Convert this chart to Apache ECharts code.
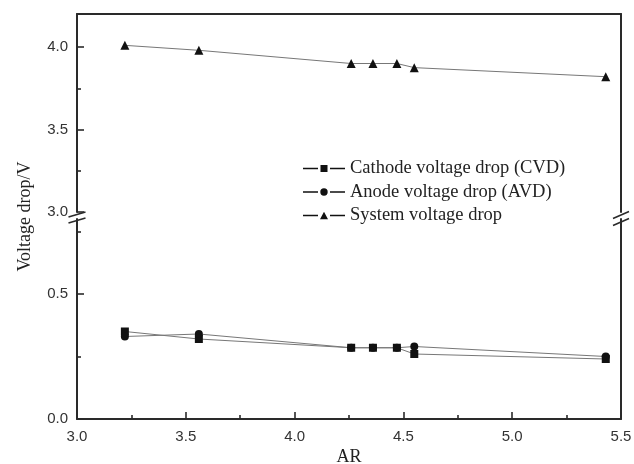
<!DOCTYPE html>
<html>
<head>
<meta charset="utf-8">
<script src="https://cdn.jsdelivr.net/npm/echarts@6/dist/echarts.min.js"></script>
<style>
html,body{margin:0;padding:0;background:#fff;}
#c{width:634px;height:464px;}
</style>
</head>
<body>
<div id="c"></div>
<script>
// ---- data ----
var arValues = [3.22, 3.56, 4.26, 4.36, 4.47, 4.55, 5.43];
var cathodeDrop = [0.35, 0.32, 0.285, 0.285, 0.285, 0.26, 0.24];
var anodeDrop = [0.33, 0.34, 0.285, 0.285, 0.285, 0.29, 0.25];
var systemDrop = [4.01, 3.98, 3.90, 3.90, 3.90, 3.875, 3.82];
var seriesNames = ['Cathode voltage drop (CVD)', 'Anode voltage drop (AVD)', 'System voltage drop'];
var xTicks = [3.0, 3.5, 4.0, 4.5, 5.0, 5.5];
var xMinorTicks = [3.25, 3.75, 4.25, 4.75, 5.25];
var yUpperTicks = [3.0, 3.5, 4.0];
var yUpperMinorTicks = [3.25, 3.75];
var yLowerTicks = [0.0, 0.5];
var yLowerMinorTicks = [0.25, 0.75];
var xTitle = 'AR';
var yTitle = 'Voltage drop/V';

function pairs(xs, ys) { return xs.map(function (x, i) { return [x, ys[i]]; }); }

var axisColor = '#2a2a2a';
var lineColor = '#777';
var markColor = '#111';
var tickFont = { fontFamily: 'Liberation Sans', fontSize: 15, color: '#333' };
var fmt = function (v) { return Number(v).toFixed(1); };

// legend icons: dash - marker - dash
var dashes = 'M0,4.2 H15 V5.8 H0 Z M27,4.2 H42 V5.8 H27 Z ';
var legendIcons = [
  'path://' + dashes + 'M17.5,1.5 H24.5 V8.5 H17.5 Z',
  'path://' + dashes + 'M17.3,5 A3.7,3.7 0 1,0 24.7,5 A3.7,3.7 0 1,0 17.3,5 Z',
  'path://' + dashes + 'M21,1.3 L25,8.7 L17,8.7 Z'
];

var chart = echarts.init(document.getElementById('c'));

var xRange = { min: 3, max: 5.5, interval: 0.5 };
var upperRange = { min: 3, max: 4.2, interval: 0.5 };
var lowerRange = { min: 0, max: 0.8, interval: 0.5 };

function axisBase(extra) {
  return Object.assign({
    type: 'value',
    splitLine: { show: false },
    axisLine: { show: true, lineStyle: { color: axisColor, width: 2 } },
    axisTick: { show: false },
    axisLabel: { show: false }
  }, extra);
}
var tickLine = { color: axisColor, width: 1.6 };

var option = {
  backgroundColor: '#fff',
  animation: false,
  grid: [
    { left: 77, right: 13, top: 14, height: 198, containLabel: false, outerBoundsMode: 'none' },
    { left: 77, right: 13, top: 219, bottom: 45, containLabel: false, outerBoundsMode: 'none' }
  ],
  xAxis: [
    axisBase(Object.assign({ gridIndex: 0, position: 'top' }, xRange)),
    axisBase(Object.assign({
      gridIndex: 1, position: 'bottom',
      axisTick: { show: true, inside: true, length: 7, customValues: xTicks, lineStyle: tickLine },
      axisLabel: Object.assign({ show: true, margin: 10, customValues: xTicks, formatter: fmt }, tickFont),
      name: xTitle, nameLocation: 'middle', nameGap: 29,
      nameTextStyle: { fontFamily: 'Liberation Serif', fontSize: 18, color: '#222' }
    }, xRange)),
    axisBase(Object.assign({
      gridIndex: 1, position: 'bottom',
      axisLine: { show: false },
      axisTick: { show: true, inside: true, length: 4, customValues: xMinorTicks, lineStyle: tickLine }
    }, xRange))
  ],
  yAxis: [
    axisBase(Object.assign({
      gridIndex: 0, position: 'left',
      axisTick: { show: true, inside: true, length: 7, customValues: yUpperTicks, lineStyle: tickLine },
      axisLabel: Object.assign({ show: true, margin: 9, customValues: yUpperTicks, formatter: fmt }, tickFont)
    }, upperRange)),
    axisBase(Object.assign({
      gridIndex: 0, position: 'left',
      axisLine: { show: false },
      axisTick: { show: true, inside: true, length: 4, customValues: yUpperMinorTicks, lineStyle: tickLine }
    }, upperRange)),
    axisBase(Object.assign({ gridIndex: 0, position: 'right' }, upperRange)),
    axisBase(Object.assign({
      gridIndex: 1, position: 'left',
      axisTick: { show: true, inside: true, length: 7, customValues: yLowerTicks, lineStyle: tickLine },
      axisLabel: Object.assign({ show: true, margin: 9, customValues: yLowerTicks, formatter: fmt }, tickFont)
    }, lowerRange)),
    axisBase(Object.assign({
      gridIndex: 1, position: 'left',
      axisLine: { show: false },
      axisTick: { show: true, inside: true, length: 4, customValues: yLowerMinorTicks, lineStyle: tickLine }
    }, lowerRange)),
    axisBase(Object.assign({ gridIndex: 1, position: 'right' }, lowerRange))
  ],
  legend: {
    orient: 'vertical',
    left: 298, top: 154,
    itemWidth: 42, itemHeight: 10, itemGap: 4.5,
    textStyle: { fontFamily: 'Liberation Serif', fontSize: 18.5, color: '#222' },
    data: seriesNames.map(function (n, i) { return { name: n, icon: legendIcons[i] }; })
  },
  series: [
    {
      name: seriesNames[0], type: 'line', xAxisIndex: 1, yAxisIndex: 3,
      data: pairs(arValues, cathodeDrop),
      symbol: 'rect', symbolSize: 8,
      lineStyle: { color: lineColor, width: 1 },
      itemStyle: { color: markColor }
    },
    {
      name: seriesNames[1], type: 'line', xAxisIndex: 1, yAxisIndex: 3,
      data: pairs(arValues, anodeDrop),
      symbol: 'circle', symbolSize: 8,
      lineStyle: { color: lineColor, width: 1 },
      itemStyle: { color: markColor }
    },
    {
      name: seriesNames[2], type: 'line', xAxisIndex: 0, yAxisIndex: 0,
      data: pairs(arValues, systemDrop),
      symbol: 'triangle', symbolSize: 9,
      lineStyle: { color: lineColor, width: 1 },
      itemStyle: { color: markColor }
    }
  ]
};
chart.setOption(option);

// axis-break marks and the shared y-axis title
var upBL = chart.convertToPixel({ xAxisIndex: 0, yAxisIndex: 0 }, [xRange.min, upperRange.min]);
var upBR = chart.convertToPixel({ xAxisIndex: 0, yAxisIndex: 0 }, [xRange.max, upperRange.min]);
var loTL = chart.convertToPixel({ xAxisIndex: 1, yAxisIndex: 3 }, [xRange.min, lowerRange.max]);
var loBL = chart.convertToPixel({ xAxisIndex: 1, yAxisIndex: 3 }, [xRange.min, lowerRange.min]);
var upTL = chart.convertToPixel({ xAxisIndex: 0, yAxisIndex: 0 }, [xRange.min, upperRange.max]);

function slash(cx, cy, dx, dy) {
  return {
    type: 'line', silent: true,
    shape: { x1: cx - dx, y1: cy + dy, x2: cx + dx, y2: cy - dy },
    style: { stroke: axisColor, lineWidth: 1.6 }
  };
}
var g = [
  slash(upBL[0], upBL[1] + 2.5, 8.5, 2.5),
  slash(loTL[0], loTL[1] + 1.5, 8.5, 2.5),
  slash(upBR[0], upBL[1] + 3, 8, 3.5),
  slash(upBR[0], loTL[1] + 3, 8, 3.5),
  {
    type: 'text', silent: true,
    x: 25, y: (upTL[1] + loBL[1]) / 2, rotation: Math.PI / 2,
    style: {
      text: yTitle, fontFamily: 'Liberation Serif', fontSize: 18, fill: '#222',
      align: 'center', verticalAlign: 'middle'
    }
  }
];
chart.setOption({ graphic: g });
</script>
</body>
</html>
